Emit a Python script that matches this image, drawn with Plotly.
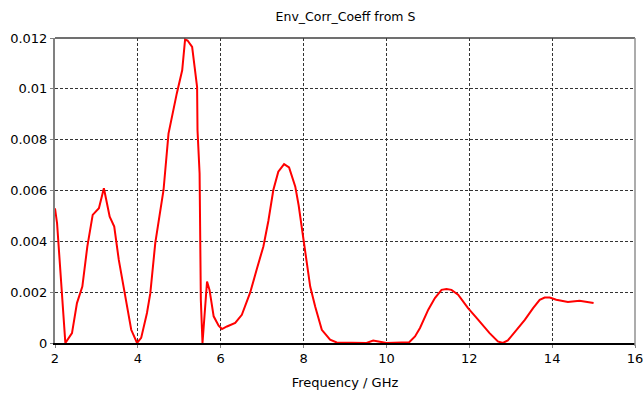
import plotly.graph_objects as go

freq_ghz = [2.0, 2.05, 2.25, 2.41, 2.53, 2.66, 2.78, 2.91, 3.06, 3.18, 3.32, 3.43, 3.54, 3.66,
            3.84, 3.98, 4.08, 4.22, 4.30, 4.42, 4.53, 4.62, 4.74, 4.82, 4.94, 5.07, 5.14, 5.20,
            5.31, 5.37, 5.43, 5.44, 5.49, 5.51, 5.52, 5.56, 5.67, 5.73, 5.83, 5.95, 6.03, 6.15,
            6.35, 6.51, 6.71, 6.87, 7.03, 7.15, 7.27, 7.39, 7.53, 7.65, 7.80, 7.88, 8.00, 8.16,
            8.28, 8.44, 8.64, 8.80, 9.52, 9.68, 9.84, 10.0, 10.55, 10.69, 10.81, 11.01, 11.17,
            11.33, 11.45, 11.57, 11.73, 11.97, 12.17, 12.49, 12.69, 12.81, 12.93, 13.14, 13.34,
            13.54, 13.70, 13.82, 13.94, 14.10, 14.38, 14.66, 14.86, 15.0]

ecc_milli = [5.30, 4.71, 0.0, 0.39, 1.57, 2.22, 3.79, 5.04, 5.30, 6.09, 4.97, 4.58, 3.27, 2.22,
             0.52, 0.0, 0.20, 1.18, 1.95, 3.93, 5.10, 6.02, 8.24, 8.90, 9.82, 10.73, 11.94, 11.90,
             11.65, 10.86, 10.07, 8.37, 6.67, 3.40, 1.70, 0.0, 2.42, 2.09, 1.05, 0.68, 0.55, 0.65,
             0.79, 1.11, 1.98, 2.90, 3.80, 4.80, 6.02, 6.74, 7.04, 6.91, 6.15, 5.43, 4.12, 2.22,
             1.44, 0.52, 0.13, 0.02, 0.0, 0.10, 0.05, 0.0, 0.03, 0.26, 0.59, 1.31, 1.77,
             2.09, 2.12, 2.09, 1.90, 1.37, 1.00, 0.39, 0.06, 0.0, 0.10, 0.52, 0.91,
             1.37, 1.70, 1.79, 1.79, 1.70, 1.61, 1.66, 1.59, 1.57]

ecc = [v / 1000.0 for v in ecc_milli]

x_ticks = [2, 4, 6, 8, 10, 12, 14, 16]
y_ticks = [0, 0.002, 0.004, 0.006, 0.008, 0.01, 0.012]
y_tick_text = ["0", "0.002", "0.004", "0.006", "0.008", "0.01", "0.012"]

font_family = "DejaVu Sans"

fig = go.Figure()
fig.add_trace(go.Scatter(
    x=freq_ghz, y=ecc, mode="lines",
    line=dict(color="#ff0000", width=2),
    showlegend=False,
))

fig.update_layout(
    width=643, height=396,
    margin=dict(l=55, r=8, t=38, b=53),
    paper_bgcolor="white", plot_bgcolor="white",
    font=dict(family=font_family, size=13, color="#000000"),
    title=dict(text="Env_Corr_Coeff from S", x=0.5373, xanchor="center",
               y=1 - 17 / 396, yanchor="middle",
               font=dict(family=font_family, size=12.5, color="#000000")),
)

fig.update_xaxes(
    range=[2, 16], tickvals=x_ticks, ticktext=[str(t) for t in x_ticks],
    showgrid=True, gridcolor="#333333", gridwidth=1, griddash="3px,2px",
    showline=True, linecolor="#000000", linewidth=1.5,
    ticks="outside", ticklen=3, tickcolor="#808080",
    zeroline=False, ticklabeloverflow="allow", automargin=False,
    tickfont=dict(family=font_family, size=13),
    title=dict(text="Frequency / GHz", standoff=13,
               font=dict(family=font_family, size=13)),
)
fig.update_yaxes(
    range=[0, 0.012], tickvals=y_ticks, ticktext=y_tick_text,
    showgrid=True, gridcolor="#333333", gridwidth=1, griddash="3px,2px",
    showline=True, linecolor="#808080", linewidth=2,
    ticks="outside", ticklen=3, tickcolor="#808080",
    zeroline=False, automargin=False,
    tickfont=dict(family=font_family, size=13),
)

# frame: top and right border lines
fig.add_shape(type="line", xref="paper", yref="paper", x0=0, x1=1, y0=1, y1=1,
              line=dict(color="#404040", width=1.5))
fig.add_shape(type="line", xref="paper", yref="paper", x0=1, x1=1, y0=-0.01, y1=1,
              line=dict(color="#909090", width=1.5))

fig.write_html("out.html")
